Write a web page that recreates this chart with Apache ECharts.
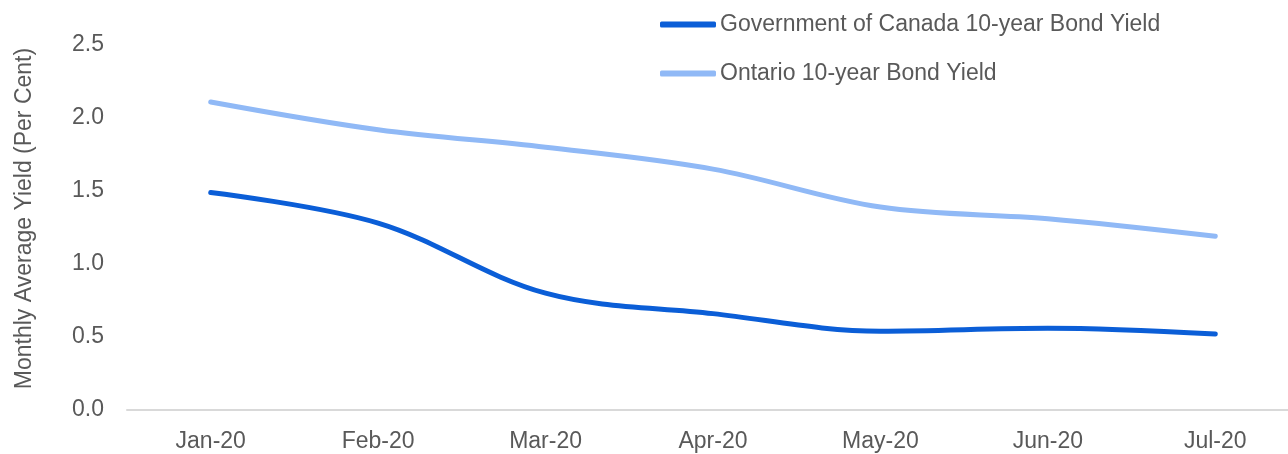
<!DOCTYPE html>
<html><head><meta charset="utf-8">
<script src="https://cdn.jsdelivr.net/npm/echarts@6/dist/echarts.min.js"></script>
<style>html,body{margin:0;padding:0;background:#fff}#c{width:1288px;height:454px}</style>
</head><body><div id="c"></div>
<script>
const categories = ['Jan-20','Feb-20','Mar-20','Apr-20','May-20','Jun-20','Jul-20'];
const govCanada = [1.49, 1.28, 0.80, 0.66, 0.54, 0.56, 0.52];
const ontario = [2.11, 1.92, 1.80, 1.65, 1.39, 1.31, 1.19];
const seriesNames = ['Government of Canada 10-year Bond Yield', 'Ontario 10-year Bond Yield'];
const yTicks = {min: 0, max: 2.5, interval: 0.5};

const chart = echarts.init(document.getElementById('c'), null, {renderer: 'canvas'});
const font = 'Liberation Sans, Arial, sans-serif';
chart.setOption({
  animation: false,
  textStyle: {fontFamily: font},
  grid: {left: 127, top: 45, width: 1172, height: 365, outerBoundsMode: 'none', containLabel: false},
  legend: {
    orient: 'vertical', left: 655, top: 8, itemGap: 26,
    itemWidth: 56, itemHeight: 6, icon: 'roundRect',
    textStyle: {fontSize: 23, color: '#595959', fontFamily: font, padding: [0,0,0,-1]},
    data: seriesNames
  },
  xAxis: {
    type: 'category', data: categories, boundaryGap: true,
    axisLine: {lineStyle: {color: '#d9d9d9', width: 2}},
    axisTick: {show: false},
    axisLabel: {fontSize: 23, color: '#595959', margin: 20, fontFamily: font}
  },
  yAxis: {
    type: 'value', min: yTicks.min, max: yTicks.max, interval: yTicks.interval,
    name: 'Monthly Average Yield (Per Cent)', nameLocation: 'middle', nameGap: 91,
    nameTextStyle: {fontSize: 23, color: '#595959', fontFamily: font, padding: [0, 0, 0, 18]},
    axisLine: {show: false}, axisTick: {show: false}, splitLine: {show: false},
    axisLabel: {fontSize: 23, color: '#595959', margin: 23, fontFamily: font,
      formatter: v => v.toFixed(1)}
  },
  series: [
    {name: seriesNames[0], type: 'line', data: govCanada, smooth: 0.35, showSymbol: false, symbol: 'none',
     color: '#0B5ED7', lineStyle: {width: 5, color: '#0B5ED7', cap: 'round'}},
    {name: seriesNames[1], type: 'line', data: ontario, smooth: 0.35, showSymbol: false, symbol: 'none',
     color: '#90B9F6', lineStyle: {width: 5, color: '#90B9F6', cap: 'round'}}
  ]
});
</script></body></html>
